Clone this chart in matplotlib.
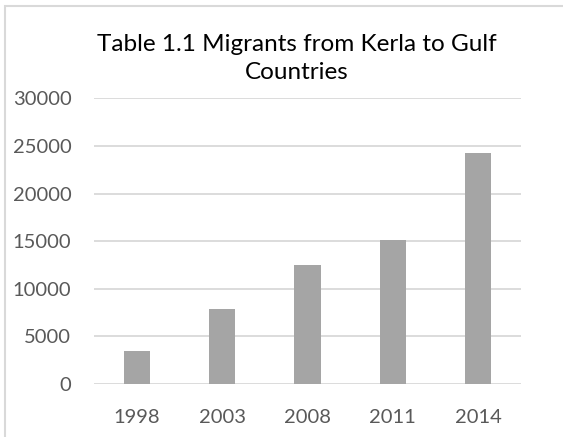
import matplotlib.pyplot as plt
from matplotlib.patches import Rectangle

# data
years = ["1998", "2003", "2008", "2011", "2014"]
migrants = [3500, 7900, 12500, 15100, 24300]
y_ticks = [0, 5000, 10000, 15000, 20000, 25000, 30000]

plt.rcParams['font.family'] = ['Lato', 'DejaVu Sans']

W, H = 563, 437
fig = plt.figure(figsize=(W / 100, H / 100), dpi=100)
fig.patch.set_facecolor("white")

# light chart border (left and top only visible)
fig.patches.append(Rectangle((5 / W, -0.1), 1.2, 1.1 - 6 / H, transform=fig.transFigure,
                             fill=False, edgecolor="#d9d9d9", linewidth=1.5))

ax = fig.add_axes([94.3 / W, 1 - 384 / H, (520.7 - 94.3) / W, (384 - 98.3) / H])
x = range(len(years))
ax.bar(x, migrants, width=0.305, color="#a5a5a5", zorder=3)

ax.set_xlim(-0.5, len(years) - 0.5)
ax.set_ylim(0, 30000)
ax.set_yticks(y_ticks)
ax.set_yticklabels([str(t) for t in y_ticks])
ax.set_xticks(list(x))
ax.set_xticklabels(years)

ax.yaxis.grid(True, color="#d9d9d9", linewidth=1.3, zorder=0)
for s in ax.spines.values():
    s.set_visible(False)
ax.tick_params(axis="both", length=0, labelsize=14.5, colors="#595959")
ax.tick_params(axis="y", pad=16.5)
ax.tick_params(axis="x", pad=18)

fig.text(0.527, 1 - 58.5 / H, "Table 1.1 Migrants from Kerla to Gulf\nCountries",
         ha="center", va="center", fontsize=17.5, color="black", linespacing=1.38)

fig.savefig("out.png", dpi=100)
